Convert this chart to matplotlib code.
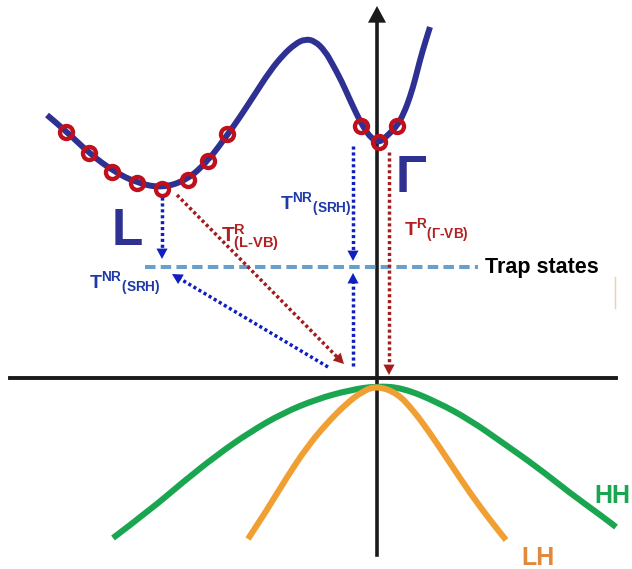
import numpy as np
import matplotlib
matplotlib.use("Agg")
import matplotlib.pyplot as plt
from matplotlib.path import Path
from matplotlib.patches import PathPatch

plt.rcParams['font.family'] = ['Liberation Sans', 'DejaVu Sans']
plt.rcParams['mathtext.fontset'] = 'custom'
plt.rcParams['mathtext.rm'] = 'Liberation Sans'
plt.rcParams['mathtext.bf'] = 'Liberation Sans:bold'
plt.rcParams['mathtext.it'] = 'Liberation Sans:italic'

# pixel coordinates (y grows downwards)
cb_x = [47, 66, 89, 113, 137, 162, 187, 208, 228, 240, 255, 270, 283, 295, 305, 315,
        325, 333, 342, 350, 358, 364, 371, 379, 388, 397, 404, 410, 415, 420, 425, 430]
cb_y = [115, 131, 153, 171, 183, 188, 180, 161, 134, 117, 94, 71, 55, 44, 39, 41,
        51, 65, 82, 100, 117, 128, 138, 143, 135, 126, 113, 97, 80, 60, 43, 27]

# electrons sitting in the L and Gamma valleys
dots_x = [66, 89, 112, 137, 162, 188, 208, 227, 361, 379, 397]
dots_y = [132, 153, 172, 183, 189, 180, 161, 134, 126, 142, 126]

hh_x = [113, 150, 183, 217, 250, 283, 317, 350, 377, 403, 437, 470, 503, 537, 570, 603, 616]
hh_y = [538, 510, 482, 455, 432, 413, 399, 390, 386, 388, 402, 420, 443, 467, 493, 517, 527]

lh_x = [248, 267, 287, 307, 327, 347, 363, 377, 397, 413, 430, 450, 470, 490, 506]
lh_y = [539, 510, 477, 447, 423, 403, 391, 386, 393, 410, 433, 463, 493, 520, 540]

trap_y = 267
trap_x = [145, 478]

# (start, tip) of the transition arrows
blue_arrows = [((162, 197), (162, 259)),
               ((328, 367), (172, 274)),
               ((353, 146), (353, 261)),
               ((353, 366), (353, 273))]
red_arrows = [((177, 195), (344, 364)),
              ((389, 152), (389, 375))]

NAVY = '#2e3192'
RED = '#c0101c'
BLUE = '#1020c0'
DRED = '#a31d1d'


def smooth_band(ax, xs, ys, color, lw):
    # quadratic bezier chain: read points act as control points
    pts = np.column_stack([xs, ys]).astype(float)
    verts = [pts[0]]
    codes = [Path.MOVETO]
    for i in range(1, len(pts) - 1):
        verts += [pts[i], (pts[i] + pts[i + 1]) / 2]
        codes += [Path.CURVE3, Path.CURVE3]
    verts.append(pts[-1])
    codes.append(Path.LINETO)
    ax.add_patch(PathPatch(Path(verts, codes), fc='none', ec=color, lw=lw,
                           joinstyle='round', capstyle='butt', zorder=3))


def dotted_arrow(ax, start, tip, color):
    s = np.array(start, float)
    t = np.array(tip, float)
    u = (t - s) / np.hypot(*(t - s))
    base = t - u * 9
    ax.plot([s[0], base[0]], [s[1], base[1]], color=color, lw=2.5,
            dashes=(0.9, 0.8), dash_capstyle='butt', zorder=3)
    back = t - u * 20
    ax.annotate('', xy=tuple(t), xytext=tuple(back),
                arrowprops=dict(arrowstyle='-|>,head_length=0.75,head_width=0.4',
                                color=color, lw=0, shrinkA=0, shrinkB=0,
                                mutation_scale=10), zorder=4)


fig = plt.figure(figsize=(6.32, 5.69), dpi=100)
ax = fig.add_axes([0, 0, 1, 1])
ax.set_xlim(0, 632)
ax.set_ylim(569, 0)
ax.axis('off')

# k and E axes
ax.plot([10, 616], [378, 378], color='#1a1a1a', lw=2.8, zorder=2)
ax.plot([377, 377], [555, 20], color='#1a1a1a', lw=2.6, zorder=2)
ax.annotate('', xy=(377, 6), xytext=(377, 40),
            arrowprops=dict(arrowstyle='-|>,head_length=1.2,head_width=0.65',
                            color='#1a1a1a', lw=0, shrinkA=0, shrinkB=0,
                            mutation_scale=10), zorder=2)

# bands
smooth_band(ax, cb_x, cb_y, NAVY, 4.3)
ax.plot(dots_x, dots_y, 'o', ms=9.4, mfc='none', mec=RED, mew=3.1, zorder=5)
smooth_band(ax, hh_x, hh_y, '#1aa650', 4.4)
smooth_band(ax, lh_x, lh_y, '#f0a032', 4.4)

# trap level
ax.plot(trap_x, [trap_y, trap_y], color='#6a9ecb', lw=2.9,
        dashes=(2.6, 1.3), dash_capstyle='butt', zorder=2)

for s, t in blue_arrows:
    dotted_arrow(ax, s, t, BLUE)
for s, t in red_arrows:
    dotted_arrow(ax, s, t, DRED)

ax.plot([615, 615], [277, 308], color='#e8d6a8', lw=1.0)

# labels
ax.text(112, 245, 'L', fontsize=37, fontweight='bold', color=NAVY, va='baseline')
ax.text(396, 192, 'Γ', fontsize=37, fontweight='bold', color=NAVY, va='baseline')
ax.text(485, 273, 'Trap states', fontsize=15.5, fontweight='bold', color='black', va='baseline')
ax.text(594, 503, 'HH', fontsize=18, fontweight='bold', color='#1aa650', va='baseline')
ax.text(521, 565, 'LH', fontsize=18, fontweight='bold', color='#e3893e', va='baseline')

ax.text(89, 289, r'$\mathbf{T^{NR}{}_{(SRH)}}$', fontsize=14, color='#1f3aa6', va='baseline')
ax.text(280, 210, r'$\mathbf{T^{NR}{}_{(SRH)}}$', fontsize=14, color='#1f3aa6', va='baseline')
ax.text(221, 242, r'$\mathbf{T^{R}_{(L‐VB)}}$', fontsize=15, color='#b02222', va='baseline')
ax.text(404, 236, r'$\mathbf{T^{R}{}_{(Γ‐VB)}}$', fontsize=14, color='#b02222', va='baseline')

fig.savefig('out.png', dpi=100)
